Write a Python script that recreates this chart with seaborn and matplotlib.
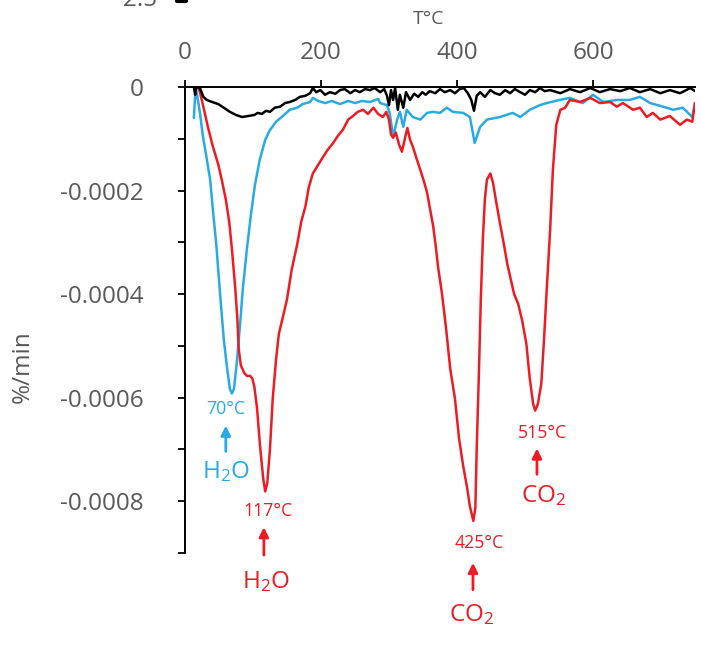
import numpy as np
import pandas as pd
import matplotlib
matplotlib.use('Agg')
import matplotlib.pyplot as plt
from matplotlib.lines import Line2D
import seaborn as sns

# DTG traces, values in units of 1e-4 %/min
blue_T = [13, 15, 16, 19, 22, 26, 31, 37, 41, 46, 51, 57, 62, 66, 69, 72, 76, 81, 85, 91, 97,
          103, 110, 118, 125, 134, 144, 154, 165, 173, 184, 188, 196, 206, 216, 228, 240, 250,
          260, 272, 284, 287, 297, 301, 306, 312, 316, 321, 326, 335, 346, 356, 365, 375, 385,
          394, 409, 419, 426, 434, 444, 463, 482, 493, 507, 522, 532, 551, 566, 585, 600, 615,
          635, 654, 669, 684, 703, 718, 732, 746, 750]
blue_v = [-0.60, -0.15, -0.02, -0.25, -0.50, -0.92, -1.31, -1.79, -2.37, -3.04, -3.90, -4.87,
          -5.44, -5.83, -5.92, -5.83, -5.35, -4.58, -3.90, -3.13, -2.46, -1.88, -1.40, -1.02,
          -0.83, -0.67, -0.56, -0.44, -0.40, -0.33, -0.29, -0.21, -0.27, -0.31, -0.27, -0.33,
          -0.27, -0.31, -0.27, -0.29, -0.23, -0.31, -0.35, -0.50, -0.96, -0.63, -0.48, -0.77,
          -0.44, -0.58, -0.63, -0.50, -0.48, -0.50, -0.40, -0.48, -0.50, -0.58, -1.08, -0.77,
          -0.63, -0.58, -0.50, -0.58, -0.44, -0.35, -0.31, -0.25, -0.21, -0.31, -0.15, -0.29,
          -0.25, -0.25, -0.19, -0.31, -0.38, -0.44, -0.40, -0.58, -0.31]

red_T = [16, 19, 22, 28, 34, 41, 49, 54, 60, 65, 69, 74, 77, 79, 82, 87, 91, 96, 99, 102, 106,
         110, 115, 118, 121, 125, 129, 134, 138, 144, 150, 157, 165, 171, 177, 182, 188, 196,
         203, 210, 218, 225, 232, 240, 247, 254, 262, 269, 277, 284, 291, 296, 300, 303, 306,
         310, 315, 319, 324, 327, 331, 335, 341, 346, 352, 356, 360, 365, 369, 372, 378, 384,
         390, 397, 403, 409, 415, 419, 424, 427, 429, 432, 435, 438, 441, 444, 449, 453, 457,
         463, 469, 474, 479, 484, 490, 496, 502, 507, 512, 515, 519, 524, 528, 532, 537, 541,
         546, 552, 559, 566, 581, 596, 610, 625, 635, 644, 659, 669, 679, 688, 699, 713, 728,
         738, 746, 750]
red_v = [-0.02, 0.0, -0.10, -0.44, -0.79, -1.15, -1.50, -1.79, -2.17, -2.60, -3.13, -3.90,
         -4.48, -5.06, -5.37, -5.52, -5.58, -5.58, -5.63, -5.79, -6.21, -6.88, -7.56, -7.81,
         -7.65, -6.98, -6.02, -5.25, -4.77, -4.44, -4.10, -3.52, -3.04, -2.60, -2.31, -1.94,
         -1.67, -1.50, -1.35, -1.21, -1.08, -0.94, -0.83, -0.63, -0.56, -0.48, -0.44, -0.52,
         -0.40, -0.52, -0.58, -0.48, -0.63, -0.92, -0.98, -0.88, -1.12, -1.25, -0.96, -0.79,
         -1.02, -1.15, -1.40, -1.60, -1.85, -2.04, -2.33, -2.69, -3.10, -3.46, -4.00, -4.67,
         -5.44, -6.02, -6.79, -7.31, -7.75, -8.10, -8.38, -8.13, -6.98, -5.63, -4.10, -2.94,
         -2.17, -1.79, -1.67, -1.85, -2.17, -2.62, -3.04, -3.42, -3.71, -4.00, -4.19, -4.52,
         -4.96, -5.63, -6.12, -6.25, -6.12, -5.73, -4.87, -3.90, -2.75, -1.60, -0.73, -0.44,
         -0.40, -0.25, -0.29, -0.21, -0.31, -0.29, -0.38, -0.31, -0.44, -0.40, -0.58, -0.50,
         -0.63, -0.56, -0.73, -0.63, -0.67, -0.31]

black_T = [13, 15, 16, 22, 27, 32, 40, 49, 57, 66, 75, 84, 93, 102, 107, 113, 119, 125, 132,
           140, 147, 154, 162, 169, 177, 184, 188, 193, 199, 206, 213, 221, 228, 235, 243, 250,
           257, 265, 272, 279, 287, 293, 297, 300, 303, 306, 309, 313, 316, 321, 325, 331, 337,
           343, 349, 354, 360, 368, 375, 382, 390, 397, 404, 410, 416, 421, 425, 429, 434, 441,
           449, 456, 463, 471, 478, 485, 493, 500, 507, 515, 522, 529, 537, 552, 566, 581, 596,
           610, 625, 640, 654, 669, 684, 699, 713, 728, 743, 750]
black_v = [0.0, -0.15, 0.0, -0.02, -0.19, -0.25, -0.29, -0.33, -0.40, -0.48, -0.54, -0.58,
           -0.56, -0.54, -0.50, -0.52, -0.46, -0.48, -0.40, -0.38, -0.31, -0.29, -0.25, -0.19,
           -0.17, -0.12, -0.02, -0.10, -0.06, -0.15, -0.10, -0.13, -0.06, -0.04, -0.12, -0.06,
           -0.10, -0.04, -0.06, -0.02, -0.10, -0.04, -0.17, -0.35, -0.06, -0.25, -0.02, -0.44,
           -0.15, -0.40, -0.10, -0.25, -0.13, -0.19, -0.10, -0.15, -0.08, -0.12, -0.04, -0.10,
           -0.06, -0.12, -0.04, -0.02, -0.12, -0.25, -0.46, -0.17, -0.10, -0.19, -0.06, -0.12,
           -0.15, -0.06, -0.12, -0.04, -0.10, -0.15, -0.06, -0.10, -0.02, -0.08, -0.06, -0.12,
           -0.04, -0.10, -0.02, -0.10, -0.04, -0.08, -0.02, -0.10, -0.04, -0.12, -0.06, -0.12,
           -0.02, -0.08]

y_ticks = [0, -1, -2, -3, -4, -5, -6, -7, -8, -9]
y_labels = ['0', '', '-0.0002', '', '-0.0004', '', '-0.0006', '', '-0.0008', '']
x_ticks = [0, 200, 400, 600]

colors = {'blue': '#29ABE2', 'red': '#ED1C24', 'black': '#000000'}
grey = '#595959'

df = pd.concat([
    pd.DataFrame({'T': blue_T, 'v': np.array(blue_v) * 1e-4, 's': 'blue'}),
    pd.DataFrame({'T': red_T, 'v': np.array(red_v) * 1e-4, 's': 'red'}),
    pd.DataFrame({'T': black_T, 'v': np.array(black_v) * 1e-4, 's': 'black'}),
])

sns.set_style('ticks')
plt.rcParams['font.family'] = ['Open Sans', 'DejaVu Sans']
plt.rcParams['mathtext.fontset'] = 'custom'
plt.rcParams['mathtext.rm'] = 'Open Sans'
plt.rcParams['mathtext.default'] = 'regular'

fig = plt.figure(figsize=(7.01, 6.52), dpi=100)
ax = fig.add_axes([185 / 701, 1 - 553 / 652, 510 / 701, 466 / 652])

sns.lineplot(data=df, x='T', y='v', hue='s', palette=colors, hue_order=['blue', 'red', 'black'],
             sort=False, estimator=None, linewidth=1.8, legend=False, ax=ax)

ax.set_xlim(0, 750)
ax.set_ylim(-0.0009, 0)
ax.set_xlabel('')
ax.set_ylabel('')

# x axis sits at y = 0 on top
ax.xaxis.tick_top()
ax.set_xticks(x_ticks)
ax.tick_params(axis='x', direction='out', length=5, width=1.3, pad=11,
               labelsize=17.5, labelcolor=grey, color='black')
ax.set_yticks(np.array(y_ticks) * 1e-4)
ax.set_yticklabels(y_labels)
ax.tick_params(axis='y', direction='out', length=5, width=1.3, pad=25,
               labelsize=17.5, labelcolor=grey, color='black')
for side in ['bottom', 'right']:
    ax.spines[side].set_visible(False)
for side in ['top', 'left']:
    ax.spines[side].set_linewidth(1.4)
    ax.spines[side].set_color('black')

fig.text(429 / 701, 1 - 19 / 652, 'T°C', ha='center', va='center', fontsize=14, color=grey)
fig.text(23 / 701, 1 - 367 / 652, '%/min', ha='center', va='center', rotation=90,
         fontsize=17.5, color=grey)
# bits of the chart above, cut at the edge
fig.text(157 / 701, 1.0, '-2.5', ha='right', va='center', fontsize=17.5, color=grey)
fig.add_artist(Line2D([177 / 701, 186 / 701], [1 - 1 / 652, 1 - 1 / 652], color='black', lw=3))

# peak annotations: (temp label, label x, label y, arrow x, arrow y0, arrow y1, gas, gas x, gas y, colour)
notes = [
    ('70°C', 60, -6.21, 60, -7.04, -6.54, 'H$_2$O', 60, -7.56, colors['blue']),
    ('117°C', 122, -8.19, 116, -9.04, -8.50, 'H$_2$O', 119, -9.67, colors['red']),
    ('425°C', 432, -8.81, 423.5, -9.71, -9.19, 'CO$_2$', 421, -10.31, colors['red']),
    ('515°C', 526, -6.69, 517.6, -7.48, -6.98, 'CO$_2$', 528, -8.02, colors['red']),
]
for lab, lx, ly, axx, ay0, ay1, gas, gx, gy, c in notes:
    ax.text(lx, ly * 1e-4, lab, ha='center', va='center', fontsize=12.8, color=c, clip_on=False)
    ax.annotate('', xy=(axx, ay1 * 1e-4), xytext=(axx, ay0 * 1e-4), annotation_clip=False,
                arrowprops=dict(arrowstyle='-|>', color=c, lw=2, mutation_scale=14,
                                shrinkA=0, shrinkB=0))
    ax.text(gx, gy * 1e-4, gas, ha='center', va='baseline', fontsize=17.5, color=c, clip_on=False)

fig.savefig('out.png', dpi=100)
